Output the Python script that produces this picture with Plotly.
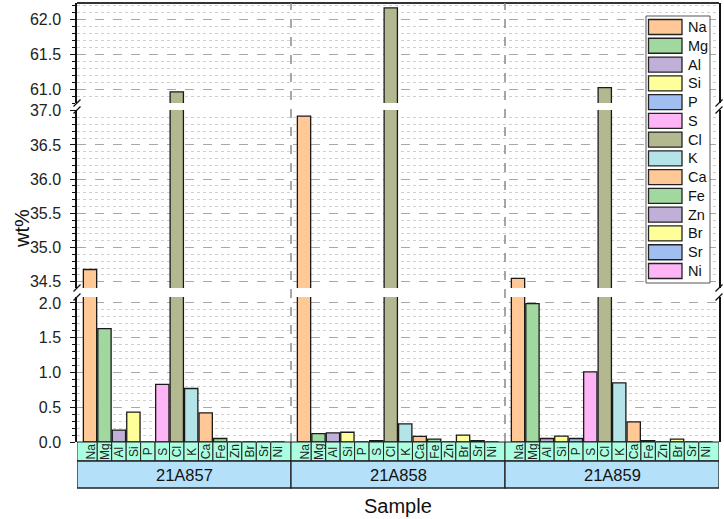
import plotly.graph_objects as go

# ---------------- data ----------------
elements = ["Na", "Mg", "Al", "Si", "P", "S", "Cl", "K", "Ca", "Fe", "Zn", "Br", "Sr", "Ni"]
samples = ["21A857", "21A858", "21A859"]
wt_21A857 = [34.68, 1.63, 0.17, 0.43, 0.0, 0.83, 60.96, 0.77, 0.42, 0.05, 0.0, 0.0, 0.0, 0.0]
wt_21A858 = [36.92, 0.12, 0.13, 0.14, 0.0, 0.02, 62.16, 0.26, 0.08, 0.04, 0.0, 0.10, 0.02, 0.0]
wt_21A859 = [34.55, 1.99, 0.05, 0.085, 0.05, 1.01, 61.02, 0.85, 0.29, 0.02, 0.0, 0.04, 0.0, 0.0]
element_colors = ["#FFC896", "#A0D8A0", "#C0B0D8", "#FFFF99", "#A0BEF0", "#FFB4F5", "#B4B890",
                  "#B4E4E8", "#FFC896", "#A0D8A0", "#C0B0D8", "#FFFF99", "#A0BEF0", "#FFB4F5"]
y_ranges = [[0.0, 2.086], [34.41, 37.01], [60.8, 62.23]]

# ---------------- geometry helpers ----------------
W, H = 724, 519
ML, MR, MT, MB = 77, 5, 3, 77
PW, PH = W - ML - MR, H - MT - MB
def py(p):  # pixel y -> paper
    return (H - MB - p) / PH
def px(p):  # pixel x -> paper
    return (p - ML) / PW

n_el = len(elements)
pad = 0.4
gw = n_el + 2 * pad
xs, vals, cols = [], [], []
for g, series in enumerate([wt_21A857, wt_21A858, wt_21A859]):
    for k, v in enumerate(series):
        xs.append(g * gw + pad + 0.5 + k)
        vals.append(v)
        cols.append(element_colors[k])

FONT = "Arial, Liberation Sans, sans-serif"
fig = go.Figure()
for i, ya in enumerate(["y", "y2", "y3"]):
    fig.add_trace(go.Bar(x=xs, y=vals, yaxis=ya, width=0.92,
                         marker=dict(color=cols, line=dict(color="#1a1a1a", width=1.3)),
                         showlegend=False, hoverinfo="skip"))

domains = [[0, py(297)], [py(288), py(110)], [py(103), 1]]
yax_common = dict(showline=True, linecolor="#111", linewidth=1.5, mirror=True,
                  ticks="outside", ticklen=5, tickwidth=1.2, tickcolor="#111",
                  dtick=0.5, tickformat=".1f", zeroline=False, ticklabelstandoff=6,
                  showgrid=True, gridcolor="#a8a8a8", griddash="dash", gridwidth=1,
                  tickfont=dict(family=FONT, size=16, color="#222"),
                  minor=dict(dtick=0.1, ticks="outside", ticklen=3, tickcolor="#111",
                             showgrid=True, gridcolor="#cfcfcf", griddash="dot", gridwidth=1))
layout = dict(
    width=W, height=H, margin=dict(l=ML, r=MR, t=MT, b=MB),
    plot_bgcolor="white", paper_bgcolor="white", barmode="overlay", showlegend=False,
    xaxis=dict(range=[0, 3 * gw], showticklabels=False, showline=False, showgrid=False,
               zeroline=False, ticks=""),
)
for i, key in enumerate(["yaxis", "yaxis2", "yaxis3"]):
    d = dict(yax_common)
    d["domain"] = domains[i]
    d["range"] = y_ranges[i]
    d["anchor"] = "x"
    d["automargin"] = False
    if i == 0:
        d["tick0"] = 0
    layout[key] = d
fig.update_layout(**layout)

shapes, annots = [], []
# top border
shapes.append(dict(type="line", xref="paper", yref="paper", x0=0, x1=1, y0=1, y1=1,
                   line=dict(color="#333", width=2)))
# group separators
for g in range(1, 3):
    shapes.append(dict(type="line", xref="x", yref="paper", x0=g * gw, x1=g * gw, y0=0, y1=1,
                       line=dict(color="#8a8a8a", width=1.5, dash="dash")))
# break marks
for bx in [ML, W - MR]:
    for byy in [103, 110, 288, 297]:
        shapes.append(dict(type="line", xref="paper", yref="paper",
                           x0=px(bx - 3.5), x1=px(bx + 3.5), y0=py(byy + 3.5), y1=py(byy - 3.5),
                           line=dict(color="#111", width=1.3)))
# element band and group band
y_el0, y_el1, y_gr1 = py(442), py(461), py(488)
for g in range(3):
    for k, el in enumerate(elements):
        x0 = g * gw + (0 if k == 0 else pad + k)
        x1 = g * gw + (gw if k == n_el - 1 else pad + k + 1)
        shapes.append(dict(type="rect", xref="x", yref="paper", x0=x0, x1=x1, y0=y_el1, y1=y_el0,
                           fillcolor="#AAFFE0", line=dict(color="#222", width=1)))
        annots.append(dict(x=g * gw + pad + 0.5 + k, y=(y_el0 + y_el1) / 2, xref="x", yref="paper",
                           text=el, textangle=-90, showarrow=False, xanchor="center", yanchor="middle",
                           font=dict(family=FONT, size=12, color="#222")))
    shapes.append(dict(type="rect", xref="x", yref="paper", x0=g * gw, x1=(g + 1) * gw,
                       y0=y_gr1, y1=y_el1, fillcolor="#B4E0FA", line=dict(color="#222", width=1.3)))
    annots.append(dict(x=(g + 0.5) * gw, y=(y_el1 + y_gr1) / 2, xref="x", yref="paper",
                       text=samples[g], showarrow=False, xanchor="center", yanchor="middle",
                       font=dict(family=FONT, size=16.5, color="#111")))
# axis titles
annots.append(dict(x=px(398), y=py(506), xref="paper", yref="paper", text="Sample", showarrow=False,
                   xanchor="center", yanchor="middle",
                   font=dict(family=FONT, size=20, color="#111")))
annots.append(dict(x=px(22), y=py(229), xref="paper", yref="paper", text="wt%", textangle=-90,
                   showarrow=False, xanchor="center", yanchor="middle",
                   font=dict(family=FONT, size=20, color="#111")))
# legend (manual key)
shapes.append(dict(type="rect", xref="paper", yref="paper", x0=px(646), x1=px(710),
                   y0=py(283), y1=py(16), fillcolor="white", line=dict(color="#555", width=1)))
for k, el in enumerate(elements):
    cy = 27 + k * 18.77
    shapes.append(dict(type="rect", xref="paper", yref="paper", x0=px(648.5), x1=px(682),
                       y0=py(cy + 7.5), y1=py(cy - 7.5), fillcolor=element_colors[k],
                       line=dict(color="#222", width=1.3)))
    annots.append(dict(x=px(686), y=py(cy), xref="paper", yref="paper", text=el, showarrow=False,
                       xanchor="left", yanchor="middle",
                       font=dict(family=FONT, size=14.5, color="#111")))

fig.update_layout(shapes=shapes, annotations=annots)
fig.write_html("out.html", config={"displayModeBar": False},
               post_script="document.body.style.margin='0';document.body.style.padding='0';")
